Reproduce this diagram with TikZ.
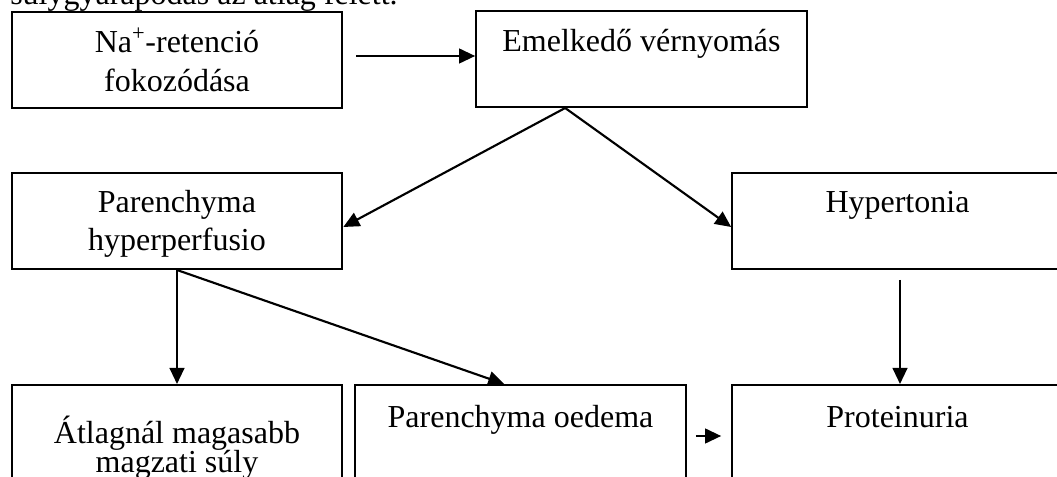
\documentclass[tikz,border=0pt]{standalone}
\usepackage{fontspec}
\setmainfont{Liberation Serif}
\usetikzlibrary{arrows.meta,calc}
\begin{document}
\begin{tikzpicture}[x=0.75pt,y=-0.75pt,
  box/.style={draw,line width=1.5pt,minimum width=248pt,minimum height=72pt,inner sep=0pt},
  txt/.style={anchor=base,inner sep=0pt,font=\fontsize{24}{28}\selectfont},
  arr/.style={line width=1.6pt,-{Triangle[length=12pt,width=11pt]}}]
\useasboundingbox (0,0) rectangle (1057,477);
\begin{scope}
\clip (0,0) rectangle (1057,477);
% boxes
\node[box] (na) at (177,60) {};
\node[box] (em) at (641.5,59) {};
\node[box] (par) at (177,221) {};
\node[box] (hyp) at (897.5,221) {};
\node[box] (atl) at (177,433) {};
\node[box] (oed) at (520.5,433) {};
\node[box] (prot) at (897.5,433) {};
% texts
\node[txt,anchor=base west] (top) at (10,5) {súlygyarapodás az átlag felett.};
\node[txt] (t1a) at (177,53) {Na\textsuperscript{+}-retenció};
\node[txt] (t1b) at (177,92) {fokozódása};
\node[txt] (t2) at (641.5,52) {Emelkedő vérnyomás};
\node[txt] (t3a) at (177,213) {Parenchyma};
\node[txt] (t3b) at (177,251) {hyperperfusio};
\node[txt] (t4) at (897.5,213) {Hypertonia};
\node[txt] (t5a) at (177,443) {Átlagnál magasabb};
\node[txt] (t5b) at (177,472) {magzati súly};
\node[txt] (t6) at (520.5,427) {Parenchyma oedema};
\node[txt] (t7) at (897.5,427) {Proteinuria};
% connectors
\coordinate (apex) at ($(em.south west)+(90,0)$);
\draw[arr] ($(na.east)+(13,-4)$) -- ($(em.west)+(0,-3)$);
\draw[arr] (apex) -- ($(par.east)+(0,6)$);
\draw[arr] (apex) -- ($(hyp.west)+(0,6)$);
\draw[arr] (par.south) -- (atl.north);
\draw[arr] (par.south) -- ($(oed.north west)+(150,0)$);
\draw[arr] ($(oed.east)+(9,3)$) -- ($(prot.west)+(-10,3)$);
\draw[arr] ($(hyp.south)+(2.5,10)$) -- ($(prot.north)+(2.5,0)$);
\end{scope}
\end{tikzpicture}
\end{document}
